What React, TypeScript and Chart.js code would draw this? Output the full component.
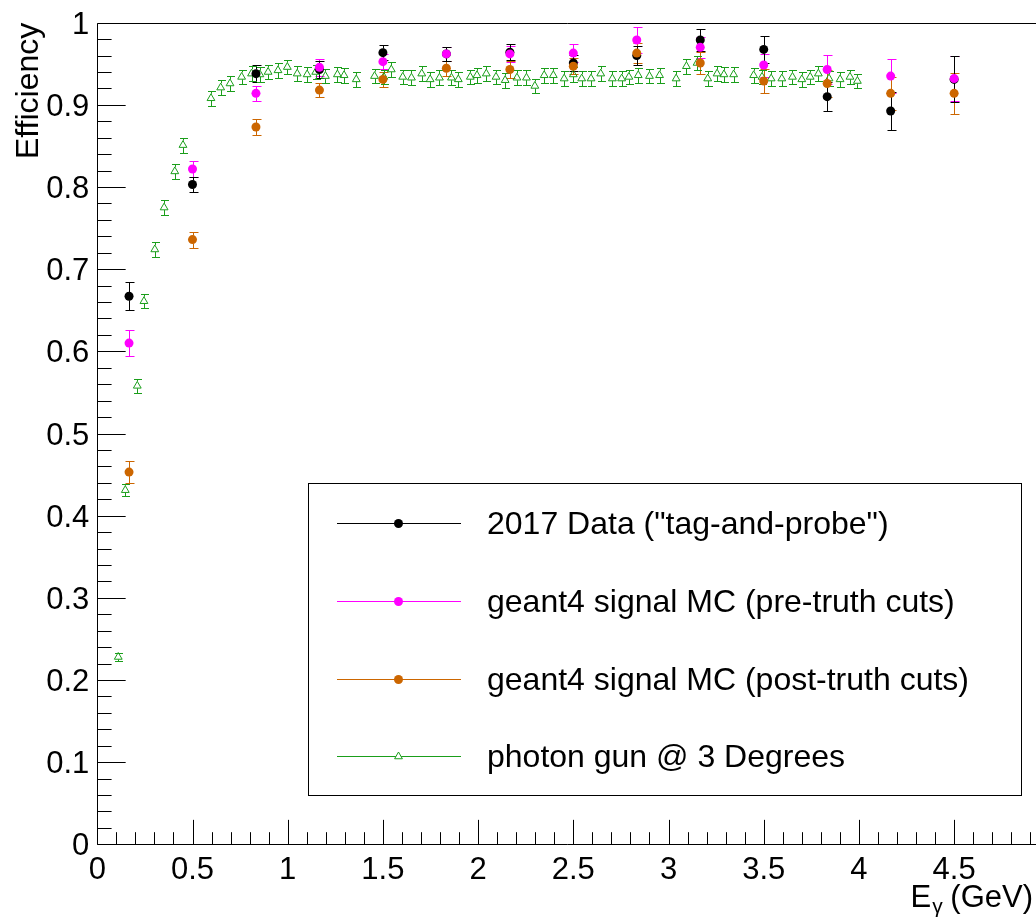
import React, { useEffect, useRef } from 'react';
import { Chart, registerables } from 'chart.js';

Chart.register(...registerables);

// ---------- data ----------
const binCenters = [0.1667, 0.5, 0.8333, 1.1667, 1.5, 1.8333, 2.1667, 2.5, 2.8333, 3.1667, 3.5, 3.8333, 4.1667, 4.5];

const dataEff = [0.667, 0.803, 0.938, 0.943, 0.9635, 0.962, 0.964, 0.951, 0.960, 0.979, 0.9675, 0.910, 0.8925, 0.931];
const dataErr = [0.017, 0.009, 0.010, 0.010, 0.009, 0.009, 0.010, 0.010, 0.012, 0.013, 0.016, 0.018, 0.023, 0.028];

const preEff = [0.610, 0.822, 0.914, 0.9457, 0.9526, 0.962, 0.962, 0.963, 0.979, 0.970, 0.9485, 0.943, 0.935, 0.932];
const preErr = [0.016, 0.010, 0.009, 0.010, 0.009, 0.009, 0.010, 0.011, 0.016, 0.013, 0.014, 0.018, 0.021, 0.027];

const postEff = [0.453, 0.736, 0.873, 0.918, 0.931, 0.9445, 0.943, 0.947, 0.963, 0.951, 0.929, 0.926, 0.914, 0.914];
const postErr = [0.0135, 0.0097, 0.0095, 0.009, 0.0087, 0.009, 0.010, 0.010, 0.012, 0.013, 0.015, 0.017, 0.020, 0.025];

const gunX = [
  0.110, 0.147, 0.210, 0.245, 0.302, 0.351, 0.407, 0.450, 0.597, 0.648,
  0.697, 0.758, 0.810, 0.854, 0.897, 0.949, 0.998, 1.050, 1.102, 1.147,
  1.198, 1.261, 1.296, 1.360, 1.456, 1.505, 1.544, 1.604, 1.650, 1.704,
  1.748, 1.797, 1.860, 1.896, 1.959, 1.994, 2.043, 2.094, 2.142, 2.204,
  2.254, 2.298, 2.347, 2.395, 2.452, 2.500, 2.544, 2.593, 2.644, 2.705,
  2.754, 2.792, 2.841, 2.900, 2.953, 3.040, 3.094, 3.150, 3.206, 3.255,
  3.291, 3.342, 3.447, 3.491, 3.539, 3.595, 3.651, 3.700, 3.744, 3.787,
  3.843, 3.901, 3.953, 3.992,
];
const gunEff = [
  0.228, 0.431, 0.558, 0.661, 0.724, 0.775, 0.819, 0.851, 0.908, 0.921,
  0.926, 0.934, 0.938, 0.937, 0.940, 0.942, 0.946, 0.938, 0.937, 0.940,
  0.935, 0.937, 0.936, 0.931, 0.935, 0.934, 0.943, 0.934, 0.933, 0.938,
  0.931, 0.933, 0.933, 0.931, 0.934, 0.936, 0.938, 0.934, 0.930, 0.933,
  0.933, 0.923, 0.936, 0.936, 0.932, 0.937, 0.932, 0.932, 0.938, 0.932,
  0.932, 0.934, 0.936, 0.935, 0.936, 0.932, 0.947, 0.951, 0.932, 0.938,
  0.937, 0.937, 0.936, 0.934, 0.932, 0.932, 0.934, 0.931, 0.934, 0.938,
  0.932, 0.931, 0.934, 0.929,
];
const gunErr = [
  0.005, 0.007, 0.0087, 0.0085, 0.009, 0.009, 0.009, 0.009, 0.009, 0.009,
  0.009, 0.009, 0.009, 0.009, 0.009, 0.009, 0.009, 0.009, 0.009, 0.009,
  0.009, 0.009, 0.009, 0.009, 0.009, 0.009, 0.009, 0.009, 0.009, 0.009,
  0.009, 0.009, 0.009, 0.009, 0.009, 0.009, 0.009, 0.009, 0.009, 0.009,
  0.009, 0.009, 0.009, 0.009, 0.009, 0.009, 0.009, 0.009, 0.009, 0.009,
  0.009, 0.009, 0.009, 0.009, 0.009, 0.009, 0.009, 0.009, 0.009, 0.009,
  0.009, 0.009, 0.009, 0.009, 0.009, 0.009, 0.009, 0.009, 0.009, 0.009,
  0.009, 0.009, 0.009, 0.009,
];

const xTickValues = [0, 0.5, 1, 1.5, 2, 2.5, 3, 3.5, 4, 4.5];
const xTickLabels = ['0', '0.5', '1', '1.5', '2', '2.5', '3', '3.5', '4', '4.5'];
const yTickValues = [0, 0.1, 0.2, 0.3, 0.4, 0.5, 0.6, 0.7, 0.8, 0.9, 1];
const yTickLabels = ['0', '0.1', '0.2', '0.3', '0.4', '0.5', '0.6', '0.7', '0.8', '0.9', '1'];

const seriesLabels = [
  '2017 Data ("tag-and-probe")',
  'geant4 signal MC (pre-truth cuts)',
  'geant4 signal MC (post-truth cuts)',
  'photon gun @ 3 Degrees',
];
const yTitle = 'Efficiency';

const X_MIN = 0;
const X_MAX = 4.93;
const Y_MIN = 0;
const Y_MAX = 1;

// ---------- style ----------
const FONT = '"Liberation Sans", Arial, Helvetica, sans-serif';
const COL_BLACK = '#000000';
const COL_MAG = '#ff00ff';
const COL_ORANGE = '#cc6600';
const COL_GREEN = '#1a9e1a';

const toPts = (xs: number[], ys: number[]) => xs.map((x, i) => ({ x, y: ys[i] }));

const rootPlugin = {
  id: 'rootStyle',
  beforeDatasetsDraw(chart: any) {
    const ctx = chart.ctx;
    const xs = chart.scales.x;
    const ys = chart.scales.y;
    ctx.save();
    chart.data.datasets.forEach((ds: any) => {
      ctx.strokeStyle = ds.errColor || ds.borderColor;
      ctx.lineWidth = 1;
      const cap = ds.capHalf;
      ds.data.forEach((p: any, i: number) => {
        const e = ds.errors[i];
        const px = Math.round(xs.getPixelForValue(p.x)) + 0.5;
        const py = ys.getPixelForValue(p.y);
        const pt = Math.round(ys.getPixelForValue(p.y + e)) + 0.5;
        const pb = Math.round(ys.getPixelForValue(p.y - e)) + 0.5;
        ctx.beginPath();
        if (py - ds.gapTop > pt) {
          ctx.moveTo(px, pt);
          ctx.lineTo(px, py - ds.gapTop);
        }
        if (py + ds.gapBottom < pb) {
          ctx.moveTo(px, py + ds.gapBottom);
          ctx.lineTo(px, pb);
        }
        ctx.moveTo(px - cap, pt);
        ctx.lineTo(px + cap + 1, pt);
        ctx.moveTo(px - cap, pb);
        ctx.lineTo(px + cap + 1, pb);
        ctx.stroke();
      });
    });
    ctx.restore();
  },
  afterDatasetsDraw(chart: any) {
    const ctx = chart.ctx;
    const xs = chart.scales.x;
    const ys = chart.scales.y;
    const area = chart.chartArea;
    const L = Math.round(area.left) + 0.5;
    const T = Math.round(area.top) + 0.5;
    const B = Math.round(area.bottom) + 0.5;
    const R = area.right;
    const W = area.right - area.left;
    const H = area.bottom - area.top;
    ctx.save();
    // frame
    ctx.strokeStyle = '#000';
    ctx.lineWidth = 1;
    ctx.beginPath();
    ctx.moveTo(R + 1, T);
    ctx.lineTo(L, T);
    ctx.lineTo(L, B);
    ctx.lineTo(R + 1, B);
    ctx.stroke();

    // y ticks (inward)
    const yMaj = 0.03 * W;
    const yMin = yMaj / 2;
    ctx.beginPath();
    for (let k = 0; k <= 50; k++) {
      const v = k * 0.02;
      const py = Math.round(ys.getPixelForValue(v)) + 0.5;
      const len = k % 5 === 0 ? yMaj : yMin;
      ctx.moveTo(L, py);
      ctx.lineTo(L + len, py);
    }
    ctx.stroke();

    // x ticks (inward)
    const xMaj = 0.03 * H;
    const xMin = xMaj / 2;
    ctx.beginPath();
    for (let k = 0; k <= 49; k++) {
      const v = k * 0.1;
      if (v > X_MAX) break;
      const px = Math.round(xs.getPixelForValue(v)) + 0.5;
      const len = k % 5 === 0 ? xMaj : xMin;
      ctx.moveTo(px, B);
      ctx.lineTo(px, B - len);
    }
    ctx.stroke();

    // tick labels
    ctx.fillStyle = '#000';
    ctx.font = `31px ${FONT}`;
    ctx.textBaseline = 'alphabetic';
    ctx.textAlign = 'center';
    xTickValues.forEach((v, i) => {
      const px = xs.getPixelForValue(v);
      ctx.fillText(xTickLabels[i], px, area.bottom + 35);
    });
    ctx.textAlign = 'right';
    yTickValues.forEach((v, i) => {
      const py = ys.getPixelForValue(v);
      ctx.fillText(yTickLabels[i], area.left - 8, py + 11);
    });

    // y title
    ctx.save();
    ctx.font = `32px ${FONT}`;
    ctx.translate(38, area.top);
    ctx.rotate(-Math.PI / 2);
    ctx.textAlign = 'right';
    ctx.fillText(yTitle, 0, 0);
    ctx.restore();

    // x title: E_gamma (GeV)
    ctx.textAlign = 'left';
    const right = 1033;
    ctx.font = `31px ${FONT}`;
    const wGeV = ctx.measureText('(GeV)').width;
    const wSp = ctx.measureText(' ').width;
    const wE = ctx.measureText('E').width;
    ctx.font = `21px ${FONT}`;
    const wG = ctx.measureText('\u03b3').width;
    const xGeV = right - wGeV;
    const xG = xGeV - wSp - wG;
    const xE = xG - wE;
    const base = 907;
    ctx.font = `31px ${FONT}`;
    ctx.fillText('E', xE, base);
    ctx.fillText('(GeV)', xGeV, base);
    ctx.font = `21px ${FONT}`;
    ctx.fillText('\u03b3', xG + 1, base + 6);

    // legend
    const lx0 = 308.5, ly0 = 483.5, lx1 = 1021.5, ly1 = 795.5;
    ctx.fillStyle = '#fff';
    ctx.fillRect(lx0, ly0, lx1 - lx0, ly1 - ly0);
    ctx.strokeStyle = '#000';
    ctx.lineWidth = 1;
    ctx.strokeRect(lx0, ly0, lx1 - lx0, ly1 - ly0);
    const entryY = [523, 601, 679, 756];
    chart.data.datasets.forEach((ds: any) => {
      const idx = ds.legendIndex;
      const ey = entryY[idx] + 0.5;
      ctx.strokeStyle = ds.borderColor;
      ctx.lineWidth = 1;
      ctx.beginPath();
      ctx.moveTo(337, ey);
      ctx.lineTo(461, ey);
      ctx.stroke();
      const mx = 398.5;
      if (ds.pointStyle === 'triangle') {
        const r = ds.pointRadius;
        ctx.fillStyle = '#fff';
        ctx.beginPath();
        for (let k = 0; k < 3; k++) {
          const a = (k * 2 * Math.PI) / 3;
          const vx = mx + Math.sin(a) * r;
          const vy = ey - Math.cos(a) * r;
          if (k === 0) ctx.moveTo(vx, vy);
          else ctx.lineTo(vx, vy);
        }
        ctx.closePath();
        ctx.fill();
        ctx.stroke();
      } else {
        ctx.fillStyle = ds.backgroundColor;
        ctx.beginPath();
        ctx.arc(mx, ey, ds.pointRadius, 0, Math.PI * 2);
        ctx.fill();
      }
      ctx.fillStyle = '#000';
      ctx.font = `32px ${FONT}`;
      ctx.textAlign = 'left';
      ctx.fillText(seriesLabels[idx], 487, entryY[idx] + 11);
    });
    ctx.restore();
  },
};

export default function App() {
  const canvasRef = useRef<HTMLCanvasElement | null>(null);

  useEffect(() => {
    const canvas = canvasRef.current;
    if (!canvas) return;
    const chart = new Chart(canvas, {
      type: 'scatter',
      data: {
        datasets: [
          {
            label: seriesLabels[1],
            data: toPts(binCenters, preEff),
            errors: preErr,
            legendIndex: 1,
            capHalf: 4,
            gapTop: 4,
            gapBottom: 4,
            pointStyle: 'circle',
            pointRadius: 4.5,
            borderWidth: 0,
            backgroundColor: COL_MAG,
            borderColor: COL_MAG,
            order: 0,
          } as any,
          {
            label: seriesLabels[2],
            data: toPts(binCenters, postEff),
            errors: postErr,
            legendIndex: 2,
            capHalf: 4,
            gapTop: 4,
            gapBottom: 4,
            pointStyle: 'circle',
            pointRadius: 4.5,
            borderWidth: 0,
            backgroundColor: COL_ORANGE,
            borderColor: COL_ORANGE,
            order: 1,
          } as any,
          {
            label: seriesLabels[0],
            data: toPts(binCenters, dataEff),
            errors: dataErr,
            legendIndex: 0,
            capHalf: 4,
            gapTop: 4,
            gapBottom: 4,
            pointStyle: 'circle',
            pointRadius: 4.5,
            borderWidth: 0,
            backgroundColor: COL_BLACK,
            borderColor: COL_BLACK,
            order: 2,
          } as any,
          {
            label: seriesLabels[3],
            data: toPts(gunX, gunEff),
            errors: gunErr,
            legendIndex: 3,
            capHalf: 3.5,
            gapTop: 4.5,
            gapBottom: 2.5,
            pointStyle: 'triangle',
            pointRadius: 4.5,
            borderWidth: 1,
            backgroundColor: 'rgba(255,255,255,0)',
            borderColor: COL_GREEN,
            order: 3,
          } as any,
        ],
      },
      options: {
        responsive: false,
        animation: false,
        events: [],
        layout: { autoPadding: false, padding: { left: 97.3, top: 22.7, right: 0, bottom: 74.7 } },
        plugins: { legend: { display: false }, tooltip: { enabled: false } },
        scales: {
          x: { type: 'linear', min: X_MIN, max: X_MAX, display: false },
          y: { type: 'linear', min: Y_MIN, max: Y_MAX, display: false },
        },
      },
      plugins: [rootPlugin],
    });
    return () => chart.destroy();
  }, []);

  return (
    <div style={{ position: 'fixed', left: 0, top: 0, width: 1036, height: 919, background: '#fff' }}>
      <canvas ref={canvasRef} width={1036} height={919} style={{ display: 'block' }} />
    </div>
  );
}
